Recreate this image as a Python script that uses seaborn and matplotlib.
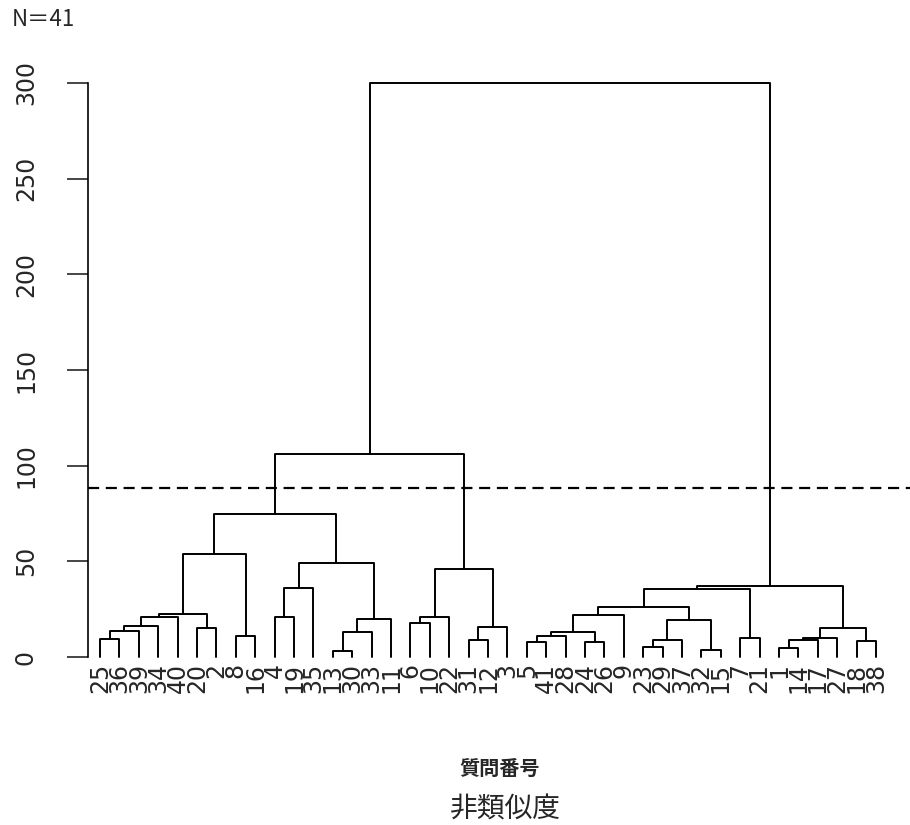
import matplotlib
matplotlib.use("Agg")
import pandas as pd
import matplotlib.pyplot as plt
import seaborn as sns

# 葉のラベル (左から表示順)
leaf_labels = [25, 36, 39, 34, 40, 20, 2, 8, 16, 4, 19, 35, 13, 30, 33, 11, 6, 10, 22, 31,
               12, 3, 5, 41, 28, 24, 26, 9, 23, 29, 37, 32, 15, 7, 21, 1, 14, 17, 27, 18, 38]

# 結合表 (R の hclust$merge と同じ形: 負=葉の表示位置, 正=何番目の結合か)
merge_left = [-13, -32, -36, -29, -23, -26, -40, -20, 4, 3, -1, 10, -34, 5, -8, 14,
              1, 11, -6, 12, 8, 18, -17, 9, 17, 22, -10, 23, 16, 26, 29, 31,
              27, 32, 28, 33, 30, 37, 38, 39]
merge_right = [-14, -33, -37, -30, -24, -27, -41, -21, -31, -38, -2, -39, -35, -25, -9, 6,
               -15, -3, -7, 7, -22, -4, -18, 2, -16, -5, -11, -19, -28, 19, 24, 13,
               -12, 20, 21, 25, 15, 36, 35, 34]
merge_height = [3.3, 3.7, 4.9, 5.0, 8.0, 8.0, 8.4, 8.9, 8.9, 8.9, 9.4, 10.0, 9.8, 11.0, 11.0, 13.2,
                13.0, 13.6, 15.0, 15.0, 15.8, 16.2, 17.6, 19.3, 20.0, 21.0, 21.0, 21.0, 22.0, 22.4, 26.3, 35.4,
                36.0, 37.1, 45.8, 49.0, 54.0, 75.0, 106.0, 300.0]

cut_height = 88.3
y_ticks = [0, 50, 100, 150, 200, 250, 300]
n_text = "N＝41"
xlab = "質問番号"
sub = "非類似度"


def build_segments():
    pos, hgt, rows = {}, {}, []
    for k, (a, b, h) in enumerate(zip(merge_left, merge_right, merge_height), start=1):
        xs, hs = [], []
        for c in (a, b):
            if c < 0:
                xs.append(-c); hs.append(0.0)
            else:
                xs.append(pos[c]); hs.append(hgt[c])
        pos[k] = (xs[0] + xs[1]) / 2
        hgt[k] = h
        for px, py in [(xs[0], hs[0]), (xs[0], h), (xs[1], h), (xs[1], hs[1])]:
            rows.append({"seg": k, "x": px, "y": py})
    return pd.DataFrame(rows)


sns.set_style("white")
plt.rcParams["font.family"] = ["DejaVu Sans", "Noto Sans CJK JP"]
CJK = ["Noto Sans CJK JP", "DejaVu Sans"]

fig = plt.figure(figsize=(9.1, 8.25), dpi=100)
ax = fig.add_axes([88 / 910, 145 / 825, 822 / 910, 620 / 825])

seg = build_segments()
sns.lineplot(data=seg, x="x", y="y", units="seg", estimator=None, sort=False,
             color="black", lw=1.4, legend=False, ax=ax)
ax.axhline(cut_height, color="black", lw=1.6, ls=(0, (5, 3)))

for i, lab in enumerate(leaf_labels, start=1):
    ax.text(i, -3.1, str(lab), rotation=90, ha="center", va="top", fontsize=17)

ax.set_xlim(0.38, 42.75)
ax.set_ylim(-12, 312)
ax.set_xticks([])
ax.set_xlabel("")
ax.set_ylabel("")
ax.set_yticks(y_ticks)
ax.set_yticklabels([str(t) for t in y_ticks], rotation=90, va="center", fontsize=17)
ax.tick_params(axis="y", direction="out", length=15, width=1.2, pad=21, left=True)
for s in ["top", "right", "bottom"]:
    ax.spines[s].set_visible(False)
ax.spines["left"].set_bounds(0, 300)
ax.spines["left"].set_linewidth(1.2)
ax.spines["left"].set_color("black")

fig.text(12 / 910, 1 - 20 / 825, n_text, family=CJK, fontsize=16, ha="left", va="center")
fig.text(500 / 910, 1 - 768 / 825, xlab, family=CJK, fontsize=14.5, fontweight="bold",
         ha="center", va="center")
fig.text(505 / 910, 1 - 810 / 825, sub, family=CJK, fontsize=20, ha="center", va="center")

plt.savefig("out.png", dpi=100)
plt.close()
